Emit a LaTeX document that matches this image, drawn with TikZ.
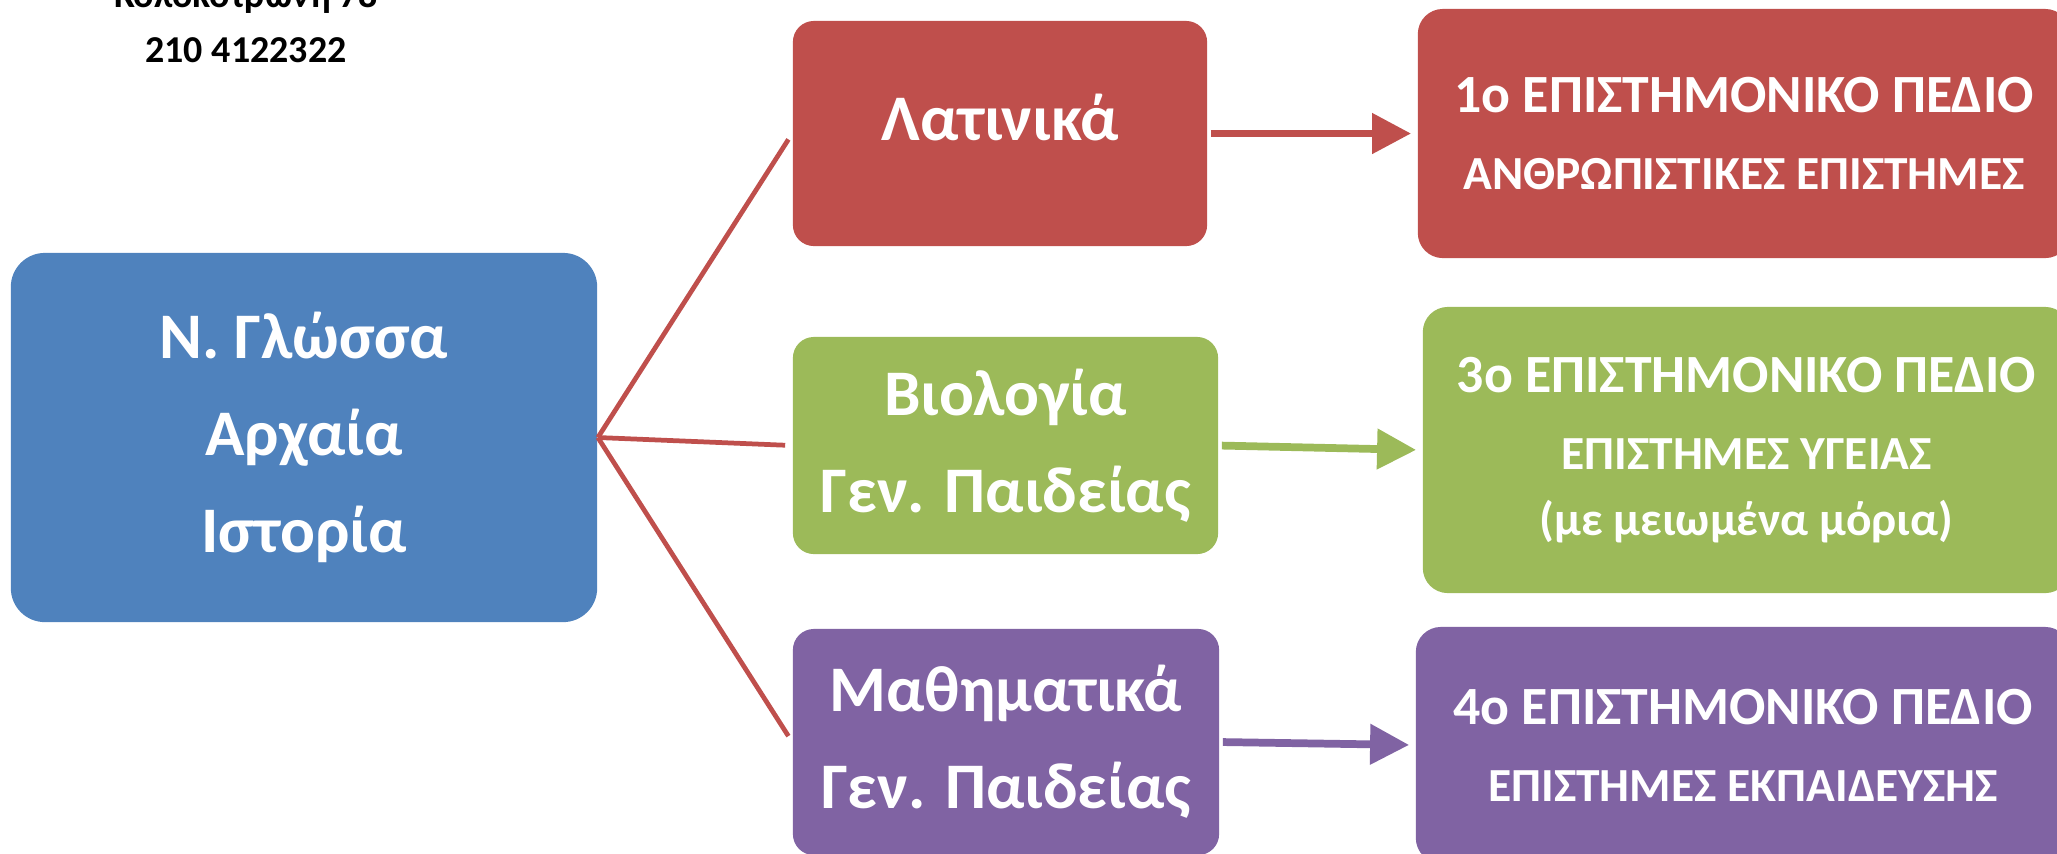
\documentclass[tikz,border=0pt]{standalone}
\usepackage{fontspec}
\setmainfont{Carlito}
\usetikzlibrary{arrows.meta}

\definecolor{blue}{rgb}{0.31,0.51,0.74}
\definecolor{red}{rgb}{0.75,0.31,0.30}
\definecolor{green}{rgb}{0.61,0.73,0.35}
\definecolor{purple}{rgb}{0.50,0.39,0.64}

\newcommand{\fieldsub}[1]{{\fontsize{13.5}{21.9}\selectfont #1}}

\begin{document}
\begin{tikzpicture}[x=0.01cm, y=-0.01cm,
		txt/.style={inner sep=0pt, text=white, align=center},
		mainbox/.style={txt, fill=blue, rounded corners=0.34cm, minimum width=5.86cm, minimum height=3.69cm, font=\bfseries\fontsize{18.5}{27.6}\selectfont},
		subjbox/.style={txt, rounded corners=0.21cm, font=\bfseries\fontsize{18.5}{27.6}\selectfont},
		fieldbox/.style={txt, rounded corners=0.25cm, font=\bfseries\fontsize{15.3}{21.9}\selectfont},
		link/.style={red, line width=1.35pt, shorten >=0.07cm},
		arr/.style={line width=2.2pt, shorten <=0.03cm, shorten >=0.06cm, -{Triangle[length=0.39cm, width=0.39cm]}}]
		\useasboundingbox (0, 0) rectangle (2057, 853);
		
		\node[inner sep=0pt, align=center, anchor=south, font=\bfseries\fontsize{10.8}{15.6}\selectfont] (addr) at (246, 63) {Κολοκοτρώνη 78\\210 4122322};
		
		\node[mainbox] (lang) at (304, 437.5) {Ν. Γλώσσα\\Αρχαία\\Ιστορία};
		
		\node[subjbox, fill=red, minimum width=4.14cm, minimum height=2.25cm, text height=0.45cm, text depth=0.31cm] (lat) at (1000, 133.5) {Λατινικά};
		\node[subjbox, fill=green, minimum width=4.25cm, minimum height=2.17cm] (bio) at (1005.5, 445.5) {Βιολογία\\Γεν. Παιδείας};
		\node[subjbox, fill=purple, minimum width=4.26cm, minimum height=2.26cm] (math) at (1006, 742) {Μαθηματικά\\Γεν. Παιδείας};
		
		\node[fieldbox, fill=red, minimum width=6.52cm, minimum height=2.49cm] (f1) at (1744, 133.5) {1ο ΕΠΙΣΤΗΜΟΝΙΚΟ ΠΕΔΙΟ\\\fieldsub{ΑΝΘΡΩΠΙΣΤΙΚΕΣ ΕΠΙΣΤΗΜΕΣ}};
		\node[fieldbox, fill=green, minimum width=6.47cm, minimum height=2.86cm] (f3) at (1746.5, 450) {3ο ΕΠΙΣΤΗΜΟΝΙΚΟ ΠΕΔΙΟ\\\fieldsub{ΕΠΙΣΤΗΜΕΣ ΥΓΕΙΑΣ}\\[-2.9pt]\fieldsub{(με μειωμένα μόρια)}};
		\node[fieldbox, fill=purple, minimum width=6.54cm, minimum height=2.36cm] (f4) at (1743, 745) {4ο ΕΠΙΣΤΗΜΟΝΙΚΟ ΠΕΔΙΟ\\\fieldsub{ΕΠΙΣΤΗΜΕΣ ΕΚΠΑΙΔΕΥΣΗΣ}};
		
		\draw[link] (lang.east) -- (lat.west);
		\draw[link] (lang.east) -- (bio.west);
		\draw[link] (lang.east) -- (math.west);
		
		\draw[arr, red] (lat.east) -- (f1.west);
		\draw[arr, green] (bio.east) -- (f3.west);
		\draw[arr, purple] (math.east) -- (f4.west);
	\end{tikzpicture}
\end{document}
